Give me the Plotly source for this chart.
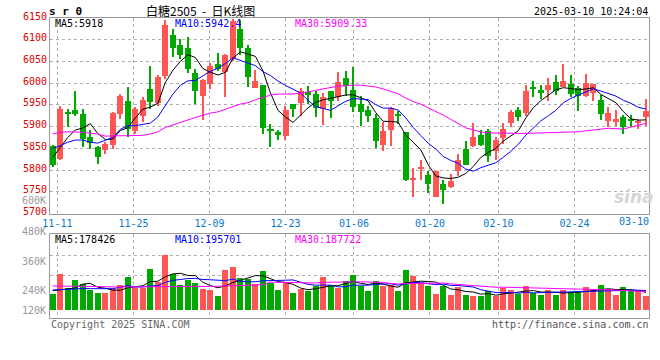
import plotly.graph_objects as go
import pandas as pd

# ---------------- data ----------------
dates = ["11-08", "11-11", "11-12", "11-13", "11-14", "11-15", "11-18", "11-19", "11-20", "11-21", "11-22",
         "11-25", "11-26", "11-27", "11-28", "11-29",
         "12-02", "12-03", "12-04", "12-05", "12-06", "12-09", "12-10", "12-11", "12-12", "12-13",
         "12-16", "12-17", "12-18", "12-19", "12-20", "12-23", "12-24", "12-25", "12-26", "12-27", "12-30", "12-31",
         "01-02", "01-03", "01-06", "01-07", "01-08", "01-09", "01-10", "01-13", "01-14", "01-15", "01-16", "01-17",
         "01-20", "01-21", "01-22", "01-23", "01-24", "01-27",
         "02-05", "02-06", "02-07", "02-10", "02-11", "02-12", "02-13", "02-14", "02-17", "02-18", "02-19", "02-20",
         "02-21", "02-24", "02-25", "02-26", "02-27", "02-28",
         "03-03", "03-04", "03-05", "03-06", "03-07", "03-10"]

opens = [5856, 5825, 5932, 5938, 5930, 5877, 5854, 5846, 5858, 5929,
         5960, 5891, 5925, 5987, 5955, 6016, 6110, 6087, 6081, 6024,
         5970, 5998, 6045, 6025, 6056, 6124, 6081, 5988, 5995, 5893,
         5888, 5879, 5952, 5955, 5979, 5976, 5941, 5983, 5968, 6011,
         5985, 5952, 5939, 5919, 5858, 5893, 5928, 5887, 5778, 5802,
         5789, 5737, 5768, 5762, 5797, 5848, 5856, 5881, 5891, 5845,
         5873, 5908, 5939, 5931, 5989, 5985, 5985, 6002, 5992, 5998,
         5988, 5970, 5978, 5962, 5914, 5911, 5921, 5915, 5908, 5921]
highs = [5858, 5947, 5941, 5981, 5941, 5892, 5856, 5865, 5934, 5974,
         5991, 5945, 5968, 6039, 6018, 6145, 6125, 6101, 6106, 6033,
         6010, 6047, 6070, 6068, 6147, 6145, 6087, 6031, 5995, 5906,
         5893, 5947, 5952, 5988, 5993, 5983, 5978, 5983, 6025, 6029,
         6037, 5971, 5948, 5929, 5910, 5946, 5937, 5887, 5804, 5824,
         5798, 5797, 5778, 5791, 5837, 5868, 5908, 5893, 5895, 5875,
         5908, 5938, 5945, 5995, 6006, 5996, 6012, 6019, 6043, 6018,
         5993, 6020, 5997, 5973, 5946, 5938, 5927, 5927, 5918, 5964]
lows = [5808, 5824, 5898, 5925, 5852, 5848, 5815, 5837, 5848, 5918,
        5875, 5883, 5911, 5941, 5948, 6010, 6060, 6056, 6024, 5952,
        5915, 5987, 6029, 5968, 6052, 6064, 5992, 5988, 5883, 5852,
        5870, 5870, 5921, 5925, 5952, 5921, 5904, 5919, 5960, 5971,
        5933, 5902, 5910, 5850, 5845, 5856, 5906, 5775, 5739, 5778,
        5748, 5737, 5721, 5758, 5787, 5812, 5852, 5855, 5818, 5824,
        5860, 5898, 5914, 5924, 5968, 5964, 5960, 5973, 5991, 5968,
        5937, 5968, 5958, 5916, 5900, 5902, 5883, 5898, 5895, 5902]
closes = [5812, 5941, 5931, 5928, 5872, 5862, 5829, 5861, 5931, 5971,
          5895, 5941, 5962, 5956, 6014, 6135, 6081, 6065, 6033, 5981,
          6008, 6039, 6033, 6064, 6144, 6081, 6015, 6004, 5896, 5891,
          5881, 5939, 5941, 5981, 5975, 5942, 5969, 5958, 6002, 5993,
          5945, 5933, 5924, 5868, 5891, 5943, 5925, 5778, 5781, 5808,
          5769, 5797, 5754, 5775, 5823, 5812, 5877, 5858, 5833, 5870,
          5895, 5933, 5921, 5981, 5987, 5978, 5995, 5983, 6005, 5974,
          5970, 6001, 5997, 5928, 5931, 5918, 5898, 5913, 5914, 5935]
volumes = [162000, 356000, 217000, 298000, 256000, 201000, 168000, 168000, 207000, 249000,
           321000, 217000, 217000, 405000, 272000, 535000, 356000, 249000, 298000, 266000,
           211000, 194000, 143000, 395000, 424000, 318000, 308000, 259000, 386000, 266000,
           194000, 266000, 168000, 207000, 185000, 240000, 327000, 246000, 217000, 282000,
           347000, 240000, 185000, 288000, 233000, 249000, 185000, 395000, 337000, 266000,
           233000, 162000, 240000, 152000, 227000, 152000, 136000, 136000, 185000, 143000,
           217000, 194000, 159000, 240000, 168000, 146000, 194000, 146000, 201000, 178000,
           185000, 224000, 201000, 249000, 207000, 146000, 224000, 194000, 194000, 136000]

# moving-average values at the start of the window (earlier data not shown)
ma5_head = [5829, 5852, 5875, 5892]
ma10_head = [5850, 5856, 5864, 5869, 5869, 5864, 5862, 5868, 5875]
ma30_head = [5883, 5887, 5888, 5888, 5887, 5885, 5883, 5878, 5879, 5879, 5879, 5879, 5880, 5883, 5888,
             5898, 5904, 5910, 5915, 5921, 5926, 5931, 5934, 5940, 5947, 5952, 5955, 5962, 5967]
vma5_head = [194000, 201000, 207000, 220000]
vma10_head = [201000, 205000, 208000, 212000, 215000, 214000, 212000, 211000, 214000]
vma30_head = [240000, 240000, 240000, 240000, 240000, 238000, 236000, 233000, 230000, 230000,
              230000, 230000, 230000, 232000, 232000, 233000, 233000, 233000, 233000, 233000,
              235000, 236000, 238000, 240000, 243000, 246000, 248000, 250000, 252000]

tick_dates = ["11-11", "11-25", "12-09", "12-23", "01-06", "01-20", "02-10", "02-24"]
last_date_label = "03-10"
price_ticks = [5700, 5750, 5800, 5850, 5900, 5950, 6000, 6050, 6100, 6150]
vol_labels = ["600K", "480K", "360K", "240K", "120K"]

symbol_text = "s r 0"
title_text = "白糖2505\u00a0\u00a0-\u00a0\u00a0日K线图"
time_text = "2025-03-10 10:24:04"
price_ma_texts = ["MA5:5918", "MA10:5942.4", "MA30:5909.33"]
vol_ma_texts = ["MA5:178426", "MA10:195701", "MA30:187722"]
copyright_text = "Copyright 2025 SINA.COM"
url_text = "http://finance.sina.com.cn"

# ---------------- styles ----------------
RED = "#ff5555"
GREEN = "#00a800"
MA_COLORS = ["#000000", "#0000ff", "#ff00ff"]
GRID = "#b0b0b0"
BORDER = "#999999"
MONO = "DejaVu Sans Mono"
W, H = 660, 360
L, R, T, B = 50, 11, 18, 42
PH = H - T - B
PW = W - L - R


def py(px):
    return (H - B - px) / PH


def px_(x):
    return (x - L) / PW


def moving(values, n, head):
    s = pd.Series(values, dtype=float).rolling(n).mean()
    s.iloc[:n - 1] = head
    return s.tolist()


idx = list(range(len(dates)))
up = [c >= o for o, c in zip(opens, closes)]
colors = [RED if u else GREEN for u in up]
body_base = [min(o, c) for o, c in zip(opens, closes)]
body_h = [max(abs(c - o), 2.3) for o, c in zip(opens, closes)]
wick_h = [h - l for h, l in zip(highs, lows)]

fig = go.Figure()
# wicks
fig.add_trace(go.Bar(x=idx, y=wick_h, base=lows, width=0.14, marker=dict(color=colors, line=dict(width=0)),
                     xaxis="x", yaxis="y", hoverinfo="skip"))
# bodies
fig.add_trace(go.Bar(x=idx, y=body_h, base=body_base, width=0.8, marker=dict(color=colors, line=dict(width=0)),
                     xaxis="x", yaxis="y", customdata=dates))
for n, head, col in zip([5, 10, 30], [ma5_head, ma10_head, ma30_head], MA_COLORS):
    fig.add_trace(go.Scatter(x=idx, y=moving(closes, n, head), mode="lines", line=dict(color=col, width=1),
                             xaxis="x", yaxis="y"))
# volume
fig.add_trace(go.Bar(x=idx, y=volumes, width=0.8, marker=dict(color=colors, line=dict(width=0)),
                     xaxis="x2", yaxis="y2"))
for n, head, col in zip([5, 10, 30], [vma5_head, vma10_head, vma30_head], MA_COLORS):
    fig.add_trace(go.Scatter(x=idx, y=moving(volumes, n, head), mode="lines", line=dict(color=col, width=1),
                             xaxis="x2", yaxis="y2"))

# gridline positions follow the date ticks (Sina grid drifts slightly against candles)
tick_pos = [dates.index(d) + (dates.index(d) - 31) * 0.0125 for d in tick_dates]
xrange_ = [-0.36, 79.4]
vpx = 0.103e-3  # px per share in volume panel
vol_base_px = 310.7
vol_range = [-(318 - vol_base_px) / vpx, (vol_base_px - 234.3) / vpx]
vol_grid = [(vol_base_px - 255) / vpx, (vol_base_px - 275.7) / vpx]

axis_common = dict(showline=True, mirror=True, linecolor=BORDER, linewidth=1, zeroline=False,
                   showgrid=True, gridcolor=GRID, griddash="dot", gridwidth=1, ticks="")

fig.update_layout(
    width=W, height=H, margin=dict(l=L, r=R, t=T, b=B),
    paper_bgcolor="white", plot_bgcolor="white",
    showlegend=False, barmode="overlay", bargap=0,
    font=dict(family=MONO, size=10),
    xaxis=dict(domain=[0, 1], range=xrange_, anchor="y", tickmode="array", tickvals=tick_pos,
               ticktext=tick_dates, tickfont=dict(color="#0a78d0", size=10, family=MONO), **axis_common),
    yaxis=dict(domain=[py(213.5), 1], range=[5700, 6150], anchor="x", tickmode="array", tickvals=price_ticks,
               ticktext=[str(v) for v in price_ticks], tickfont=dict(color="#e00000", size=10, family=MONO),
               ticklabelshift=-2, **axis_common),
    xaxis2=dict(domain=[0, 1], range=xrange_, anchor="y2", matches="x", tickmode="array", tickvals=tick_pos,
                showticklabels=False, **axis_common),
    yaxis2=dict(domain=[0, py(234.3)], range=vol_range, anchor="x2", tickmode="array", tickvals=vol_grid,
                showticklabels=False, **axis_common),
)

ann = []


def add_text(text, x, y, anchor="left", color="#000", size=10, family=MONO):
    ann.append(dict(text=text, x=px_(x), y=py(y), xref="paper", yref="paper", xanchor=anchor,
                    yanchor="middle", showarrow=False, font=dict(color=color, size=size, family=family),
                    borderpad=0))


add_text("<b>" + symbol_text + "</b>", 48, 11.5, size=11)
add_text(title_text, 200, 10, anchor="center", size=12, family="Noto Sans CJK SC")
add_text(time_text, 649, 11.5, anchor="right")
for t, x, c in zip(price_ma_texts, [54, 174, 294], MA_COLORS):
    add_text(t, x, 23.7, color=c)
for t, x, c in zip(vol_ma_texts, [54, 174, 294], MA_COLORS):
    add_text(t, x, 239.5, color=c)
for t, y in zip(vol_labels, [200.8, 231, 261, 290, 310.3]):
    add_text(t, 46.5, y, anchor="right", color="#999999")
add_text(last_date_label, 649.5, 221.5, anchor="right", color="#0a78d0")
add_text(copyright_text, 49.5, 324, color="#666666")
add_text(url_text, 649.5, 324, anchor="right", color="#555555")
add_text("<i><b>sina</b></i>", 634, 197, anchor="center", color="#d6d6d6", size=17, family="DejaVu Sans")
fig.update_layout(annotations=ann)

fig.write_html("out.html", config={"displayModeBar": False},
               post_script="document.body.style.margin='0';document.body.style.padding='0';")
